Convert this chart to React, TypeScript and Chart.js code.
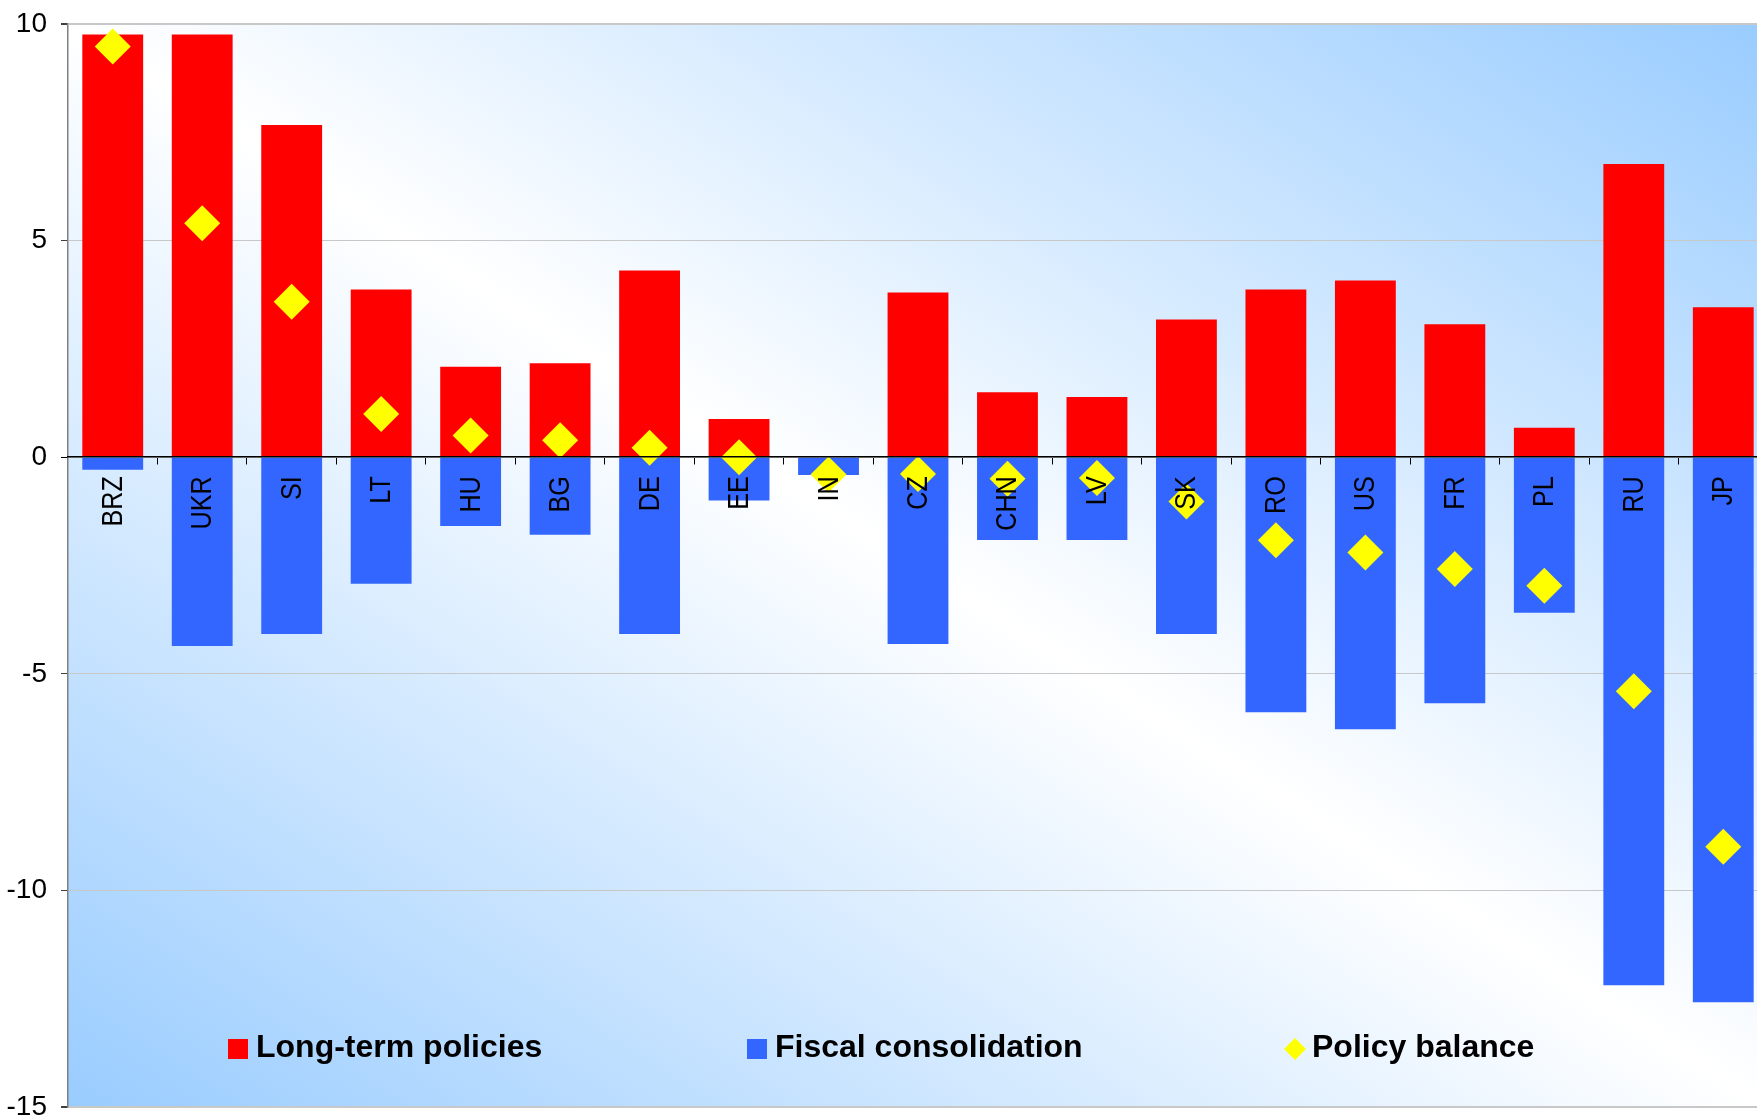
import { useEffect, useRef } from "react";
import { Chart, registerables } from "chart.js";

Chart.register(...registerables);

// Countries along the category axis
const countries = ["BRZ", "UKR", "SI", "LT", "HU", "BG", "DE", "EE", "IN", "CZ", "CHN", "LV", "SK", "RO", "US", "FR", "PL", "RU", "JP"];

// Series values (index points)
const longTermPolicies = [9.76, 9.76, 7.67, 3.87, 2.09, 2.17, 4.31, 0.88, 0, 3.8, 1.5, 1.39, 3.18, 3.87, 4.08, 3.07, 0.68, 6.77, 3.46];
const fiscalConsolidation = [-0.29, -4.36, -4.08, -2.92, -1.59, -1.79, -4.08, -1.0, -0.41, -4.31, -1.91, -1.91, -4.08, -5.89, -6.28, -5.68, -3.59, -12.19, -12.58];
const policyBalance = [9.48, 5.4, 3.59, 1.0, 0.5, 0.39, 0.22, 0.0, -0.4, -0.39, -0.5, -0.48, -1.02, -1.92, -2.2, -2.58, -2.97, -5.4, -8.99];

// Value axis range and step
const yMin = -15;
const yMax = 10;
const yStep = 5;

const RED = "#FF0000";
const BLUE = "#3366FF";
const YELLOW = "#FFFF00";
const SKY = "rgb(153,204,255)";

// Diagonal blue-white-blue wash behind the plot area
const plotBackground = {
  id: "plotBackground",
  beforeDraw(chart: any) {
    const { ctx, chartArea: a } = chart;
    const cx = (a.left + a.right) / 2;
    const cy = (a.top + a.bottom) / 2;
    const w = a.right - a.left;
    const h = a.bottom - a.top;
    const len = Math.hypot(w, h);
    const nx = h / len;
    const ny = -w / len;
    const reach = Math.abs((w / 2) * nx) + Math.abs((h / 2) * ny);
    const g = ctx.createLinearGradient(cx - nx * reach, cy - ny * reach, cx + nx * reach, cy + ny * reach);
    g.addColorStop(0, SKY);
    g.addColorStop(0.5, "#FFFFFF");
    g.addColorStop(1, SKY);
    ctx.save();
    ctx.fillStyle = g;
    ctx.fillRect(a.left, a.top, w, h);
    ctx.restore();
  },
};

// Category names, vertical and slightly condensed, hanging below the zero line
const categoryLabels = {
  id: "categoryLabels",
  afterDatasetsDraw(chart: any, _args: any, opts: any) {
    const { ctx } = chart;
    const xs = chart.scales.x;
    const ys = chart.scales.y;
    const zero = ys.getPixelForValue(0);
    ctx.save();
    ctx.fillStyle = "#000";
    ctx.font = `${opts.size}px 'Liberation Sans', Arial, sans-serif`;
    ctx.textAlign = "right";
    ctx.textBaseline = "alphabetic";
    xs.ticks.forEach((_t: any, i: number) => {
      const x = xs.getPixelForTick(i);
      ctx.save();
      ctx.translate(x + opts.shift, zero + opts.gap);
      ctx.rotate(-Math.PI / 2);
      ctx.scale(opts.condense, 1);
      ctx.fillText(xs.getLabelForValue(i), 0, 0);
      ctx.restore();
    });
    ctx.restore();
  },
};

// Legend laid out inside the lower part of the plot area
const inPlotLegend = {
  id: "inPlotLegend",
  afterDraw(chart: any, _args: any, opts: any) {
    const { ctx, chartArea: a } = chart;
    const cy = a.bottom - opts.offsetBottom;
    ctx.save();
    ctx.font = "bold 32px 'Liberation Sans', Arial, sans-serif";
    ctx.textBaseline = "alphabetic";
    chart.data.datasets.forEach((ds: any, i: number) => {
      const x = a.left + opts.offsets[i];
      ctx.fillStyle = ds.backgroundColor;
      if (ds.type === "line") {
        const r = 11;
        const mx = x + r;
        ctx.beginPath();
        ctx.moveTo(mx, cy - r);
        ctx.lineTo(mx + r, cy);
        ctx.lineTo(mx, cy + r);
        ctx.lineTo(mx - r, cy);
        ctx.closePath();
        ctx.fill();
      } else {
        ctx.fillRect(x, cy - 10, 20, 20);
      }
      ctx.fillStyle = "#000";
      ctx.fillText(ds.label, x + 28, cy + 8);
    });
    ctx.restore();
  },
};

export default function App() {
  const canvasRef = useRef<HTMLCanvasElement | null>(null);

  useEffect(() => {
    const canvas = canvasRef.current;
    if (!canvas) return;
    const chart = new Chart(canvas, {
      type: "bar",
      data: {
        labels: countries,
        datasets: [
          {
            type: "bar",
            label: "Long-term policies",
            data: longTermPolicies,
            backgroundColor: RED,
            borderWidth: 0,
            barPercentage: 0.68,
            categoryPercentage: 1,
            order: 1,
          },
          {
            type: "bar",
            label: "Fiscal consolidation",
            data: fiscalConsolidation,
            backgroundColor: BLUE,
            borderWidth: 0,
            barPercentage: 0.68,
            categoryPercentage: 1,
            order: 1,
          },
          {
            type: "line",
            label: "Policy balance",
            data: policyBalance,
            showLine: false,
            pointStyle: "rectRot",
            pointRadius: 18,
            pointHoverRadius: 18,
            backgroundColor: YELLOW,
            borderColor: YELLOW,
            pointBorderWidth: 0,
            borderWidth: 0,
            clip: false,
            order: 0,
          } as any,
        ],
      },
      options: {
        animation: false,
        responsive: false,
        devicePixelRatio: 1,
        layout: { autoPadding: false, padding: { top: 24, bottom: 10, right: 12, left: 0 } },
        plugins: {
          legend: { display: false },
          tooltip: { enabled: false },
          title: { display: false },
          inPlotLegend: { offsets: [160, 679, 1216], offsetBottom: 58 },
          categoryLabels: { size: 30, condense: 0.84, gap: 19, shift: 9 },
        } as any,
        scales: {
          x: {
            stacked: true,
            position: { y: 0 } as any,
            grid: {
              drawOnChartArea: false,
              drawTicks: true,
              tickLength: 7,
              tickColor: "#000",
              offset: true,
            },
            border: { color: "#000", width: 1.5, z: 1 },
            ticks: { display: false, autoSkip: false },
            afterFit: (s: any) => {
              s.paddingLeft = 0;
              s.paddingRight = 0;
            },
          },
          y: {
            stacked: true,
            min: yMin,
            max: yMax,
            ticks: {
              stepSize: yStep,
              padding: 14,
              color: "#000",
              font: { family: "'Liberation Sans', Arial, sans-serif", size: 28 },
            },
            grid: {
              color: "#C8C8C8",
              lineWidth: (c: any) => (c.tick && (c.tick.value === yMax || c.tick.value === yMin) ? 2 : 1),
              drawTicks: true,
              tickLength: 7,
              tickColor: (c: any) => (c.tick && c.tick.value === 0 ? "#000" : "#404040"),
            },
            border: { color: "#808080", width: 1.5 },
            afterFit: (s: any) => {
              s.width = 68;
              s.paddingTop = 0;
              s.paddingBottom = 0;
            },
          },
        },
      },
      plugins: [plotBackground, categoryLabels, inPlotLegend],
    });
    return () => chart.destroy();
  }, []);

  return (
    <div
      style={{
        position: "fixed",
        left: 0,
        top: 0,
        width: 1757,
        height: 1117,
        overflow: "hidden",
        background: "#fff",
      }}
    >
      <canvas ref={canvasRef} width={1780} height={1117} style={{ display: "block" }} />
    </div>
  );
}
